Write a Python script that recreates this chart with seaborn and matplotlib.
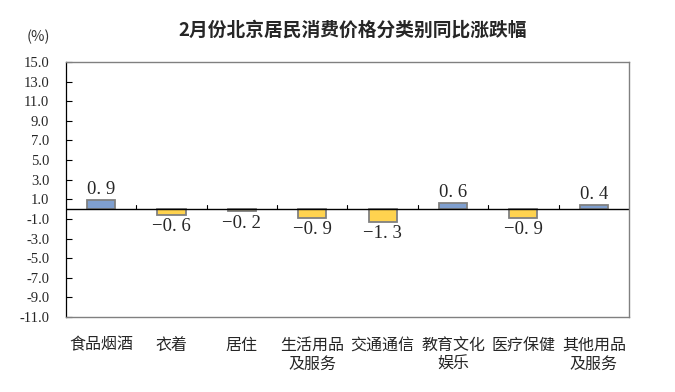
import matplotlib
matplotlib.use("Agg")
import matplotlib.pyplot as plt
import seaborn as sns
import pandas as pd

categories = ["食品烟酒", "衣着", "居住", "生活用品\n及服务", "交通通信", "教育文化\n娱乐", "医疗保健", "其他用品\n及服务"]
values = [0.9, -0.6, -0.2, -0.9, -1.3, 0.6, -0.9, 0.4]
yticks = [15, 13, 11, 9, 7, 5, 3, 1, -1, -3, -5, -7, -9, -11]
title = "2月份北京居民消费价格分类别同比涨跌幅"
unit = "(%)"

sns.set_theme(style="white")
plt.rcParams['font.family'] = ['Noto Sans CJK SC', 'DejaVu Sans']

BLUE = "#7F9FCF"
YELLOW = "#FFD34F"
EDGE = "#808080"

df = pd.DataFrame({"cat": categories, "val": values})
colors = [BLUE if v > 0 else YELLOW for v in values]

fig = plt.figure(figsize=(6.75, 3.92), dpi=100)
ax = fig.add_axes([0.0978, 0.191, 0.834, 0.651])

sns.barplot(data=df, x="cat", y="val", hue="cat", palette=colors, legend=False,
            width=0.4, edgecolor=EDGE, linewidth=1.3, saturation=1, ax=ax)

ax.set_ylim(-11, 15)
ax.set_xlim(-0.5, len(categories) - 0.5)
ax.set_yticks(yticks)
ax.set_yticklabels([f"{t:.1f}" for t in yticks], fontfamily="Liberation Serif", fontsize=10.5)
ax.tick_params(axis="y", direction="in", length=4, width=0.8, color="black", pad=12, left=True)
ax.tick_params(axis="x", length=0, pad=14, labelsize=11.5)
ax.set_xlabel("")
ax.set_ylabel("")

for s in ["top", "right", "bottom"]:
    ax.spines[s].set_color(EDGE)
    ax.spines[s].set_linewidth(1.0)
ax.spines["left"].set_color("black")
ax.spines["left"].set_linewidth(0.9)

ax.axhline(0, color="black", lw=1.0, zorder=1)
for i in range(1, len(categories)):
    ax.plot([i - 0.5, i - 0.5], [0, 0.45], color="black", lw=0.8, zorder=1)

for i, v in enumerate(values):
    txt = f"{v:.1f}".replace("-", "−").replace(".", ". ")
    if v >= 0:
        ax.text(i, v + 0.25, txt, ha="center", va="bottom", fontsize=13.5,
                fontfamily="Liberation Serif")
    else:
        ax.text(i, v - 0.35, txt, ha="center", va="top", fontsize=13.5,
                fontfamily="Liberation Serif")

fig.text(0.522, 0.923, title, ha="center", va="center", fontsize=13.5, fontweight="bold")
fig.text(0.057, 0.905, unit, ha="center", va="center", fontsize=10.5, color="#333333")

fig.savefig("out.png", dpi=100)
